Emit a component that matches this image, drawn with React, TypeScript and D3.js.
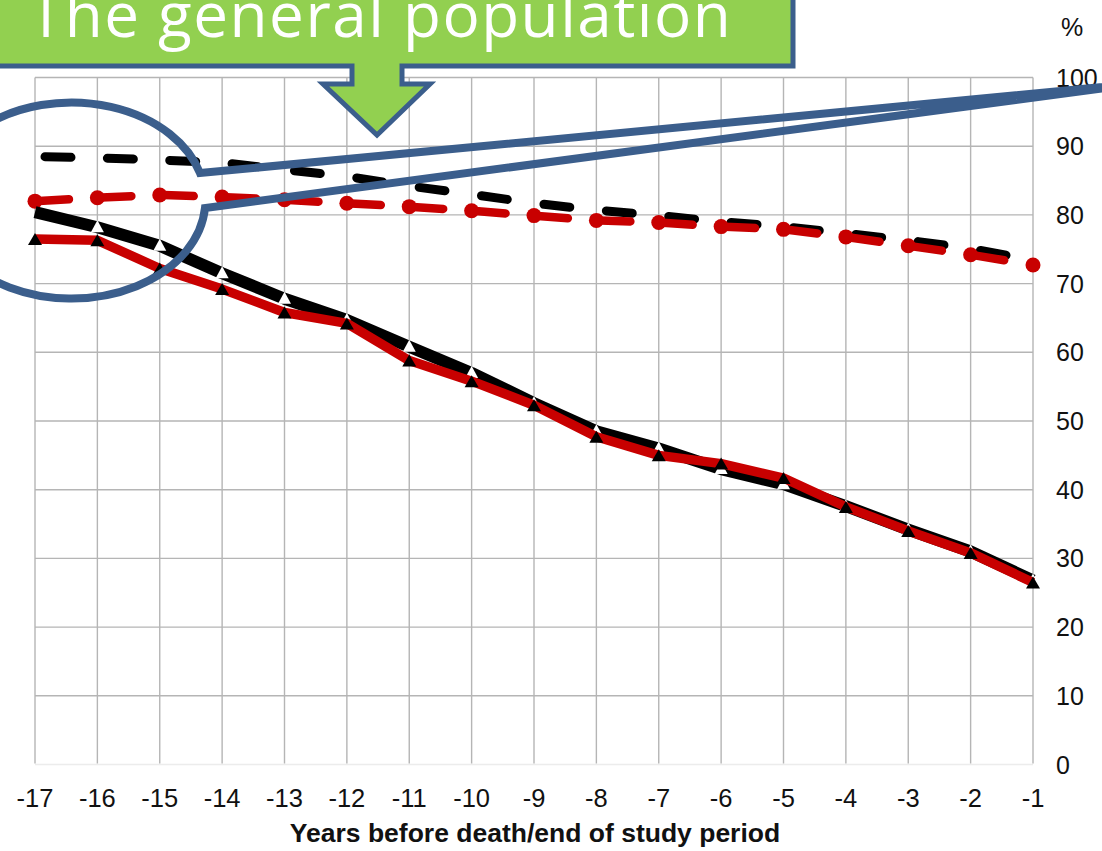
import React from "react";
import * as d3 from "d3";

const years = [-17, -16, -15, -14, -13, -12, -11, -10, -9, -8, -7, -6, -5, -4, -3, -2, -1];
const yTicks = [0, 10, 20, 30, 40, 50, 60, 70, 80, 90, 100];

// General population (dashed)
const genPopBlack = [88.5, 88.3, 88.0, 87.6, 86.6, 85.6, 84.2, 83.0, 81.7, 80.7, 79.9, 79.0, 78.3, 77.3, 76.3, 75.1, 73.4];
const genPopRed = [82.0, 82.5, 82.9, 82.6, 82.2, 81.7, 81.2, 80.6, 79.9, 79.2, 78.9, 78.3, 77.9, 76.8, 75.5, 74.2, 72.7];
// Study group (solid)
const groupBlack = [80.4, 78.2, 75.5, 71.5, 67.8, 64.7, 60.8, 57.0, 52.6, 48.5, 46.0, 43.0, 40.8, 37.6, 34.2, 31.0, 26.8];
const groupRed = [76.5, 76.3, 72.2, 69.2, 65.8, 64.2, 58.8, 55.8, 52.3, 47.7, 45.0, 43.8, 41.7, 37.5, 34.0, 30.8, 26.5];

const calloutText = "The general population";
const xTitle = "Years before death/end of study period";
const yUnit = "%";

const W = 1102;
const H = 851;
const BLUE = "#3b5e8c";
const GREEN = "#92d050";
const RED = "#c80000";
const GRID = "#b5b5b5";

export default function App() {
  const x = d3.scaleLinear().domain([-17, -1]).range([35, 1033]);
  const y = d3.scaleLinear().domain([0, 100]).range([764.5, 77.5]);

  const line = d3
    .line<[number, number]>()
    .x((d) => x(d[0]))
    .y((d) => y(d[1]));

  const pts = (vals: number[]) => years.map((yr, i) => [yr, vals[i]] as [number, number]);

  const tri = (cx: number, cy: number, w: number, h: number) =>
    `M${cx},${cy - h / 2}L${cx + w / 2},${cy + h / 2}L${cx - w / 2},${cy + h / 2}Z`;

  // callout ellipse with tail
  const rx = 134, ry = 98;
  const up = [200, 173];
  const lo = [205, 208];
  const tip = [1135, 84];
  const calloutPath = `M${lo[0]},${lo[1]} A${rx},${ry} 0 1 1 ${up[0]},${up[1]} L${tip[0]},${tip[1]} Z`;

  const boxPath =
    "M-20,-20 L793,-20 L793,66 L402,66 L402,84 L430,84 L377,135 L323,84 L352,84 L352,66 L-20,66 Z";

  return (
    <svg
      width={W}
      height={H}
      style={{ position: "absolute", left: 0, top: 0, background: "#fff" }}
      fontFamily="'Liberation Sans', Arial, sans-serif"
    >
      <rect width={W} height={H} fill="#fff" />
      {/* grid */}
      {yTicks.map((t) => (
        <line
          key={"h" + t}
          x1={x(-17)}
          x2={x(-1)}
          y1={y(t)}
          y2={y(t)}
          stroke={t === 0 ? "#ececec" : GRID}
          strokeWidth={1.4}
        />
      ))}
      {years.map((yr) => (
        <line key={"v" + yr} x1={x(yr)} x2={x(yr)} y1={y(100)} y2={y(0) - 1} stroke={GRID} strokeWidth={1.4} />
      ))}

      {/* y labels */}
      {yTicks.map((t) => (
        <text key={"yl" + t} x={1056} y={y(t)} dy="0.36em" fontSize={25} fill="#111">
          {t}
        </text>
      ))}
      <text x={1061} y={27} dy="0.36em" fontSize={25} fill="#111">
        {yUnit}
      </text>

      {/* x labels */}
      {years.map((yr) => (
        <text key={"xl" + yr} x={x(yr)} y={807} textAnchor="middle" fontSize={25.5} fill="#111">
          {yr}
        </text>
      ))}
      <text x={535} y={842} textAnchor="middle" fontSize={26.5} fontWeight="bold" fill="#111">
        {xTitle}
      </text>

      {/* dashed general population lines */}
      {d3.pairs(pts(genPopBlack)).map((seg, i) => (
        <path
          key={"gb" + i}
          d={line(seg) || ""}
          fill="none"
          stroke="#000"
          strokeWidth={9}
          strokeLinecap="round"
          strokeDasharray="26 1000"
          strokeDashoffset={-10}
        />
      ))}
      {d3.pairs(pts(genPopRed)).map((seg, i) => (
        <path
          key={"gr" + i}
          d={line(seg) || ""}
          fill="none"
          stroke={RED}
          strokeWidth={8.5}
          strokeLinecap="round"
          strokeDasharray="30 1000"
          strokeDashoffset={-4}
        />
      ))}
      {pts(genPopRed).map((p, i) => (
        <circle key={"grc" + i} cx={x(p[0])} cy={y(p[1])} r={7.5} fill={RED} />
      ))}

      {/* solid study group lines */}
      <path d={line(pts(groupBlack)) || ""} fill="none" stroke="#000" strokeWidth={12} strokeLinejoin="round" />
      {pts(groupBlack).slice(1).map((p, i) => (
        <path key={"wt" + i} d={tri(x(p[0]), y(p[1]) - 1, 13, 12)} fill="#fff" />
      ))}
      <path d={line(pts(groupRed)) || ""} fill="none" stroke={RED} strokeWidth={9.5} strokeLinejoin="round" />
      {pts(groupRed).map((p, i) => (
        <path key={"bt" + i} d={tri(x(p[0]), y(p[1]), 14, 12)} fill="#000" />
      ))}

      {/* callout box with arrow */}
      <path d={boxPath} fill={GREEN} stroke={BLUE} strokeWidth={5} strokeLinejoin="miter" />
      <text
        x={29}
        y={37}
        fontFamily="'Open Sans', sans-serif"
        fontSize={62}
        letterSpacing={1.5}
        fill="#fff"
      >
        {calloutText}
      </text>

      {/* ellipse callout */}
      <path d={calloutPath} fill="none" stroke={BLUE} strokeWidth={8} strokeLinejoin="miter" />
    </svg>
  );
}
